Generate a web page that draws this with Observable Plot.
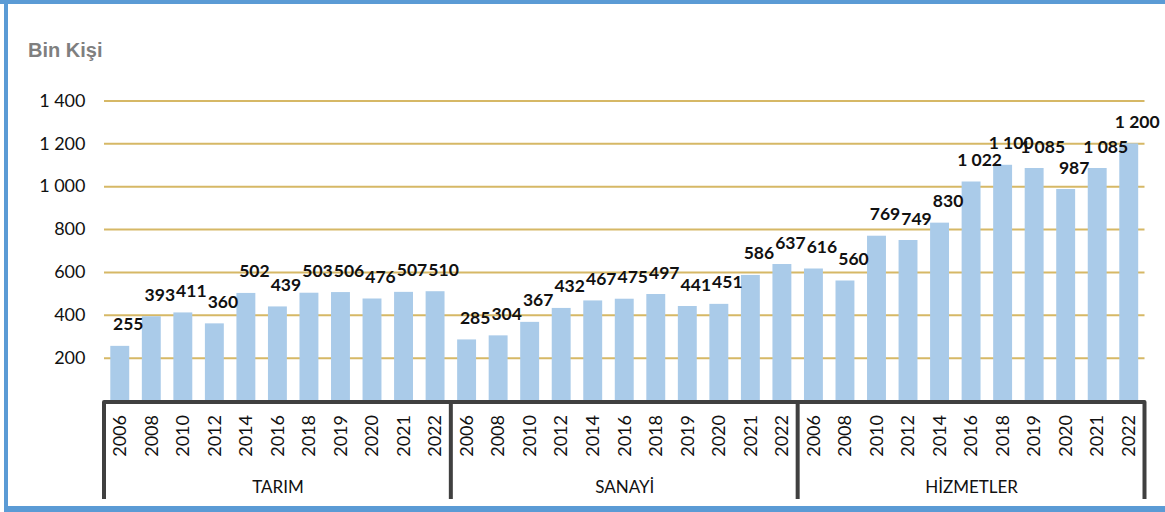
<!DOCTYPE html>
<html><head><meta charset="utf-8">
<script src="https://cdn.jsdelivr.net/npm/d3@7"></script>
<script src="https://cdn.jsdelivr.net/npm/@observablehq/plot@0.6"></script>
<style>
body{margin:0;background:#fff}
#wrap{position:relative;width:1165px;height:512px;overflow:hidden;background:#fff}
.b{position:absolute;background:#5b9bd5}
#title{position:absolute;left:28px;top:40px;font:bold 20px "Liberation Sans",Arial,sans-serif;line-height:20px;color:#7f7f7f;white-space:nowrap}
#chart{position:absolute;left:0;top:0}
</style></head><body>
<div id="wrap">
<div id="chart"></div>
<div id="title">Bin Kişi</div>
<div class="b" style="left:0;top:0;width:1165px;height:4px"></div>
<div class="b" style="left:4px;top:0;width:4px;height:512px"></div>
<div class="b" style="left:4px;top:506px;width:1161px;height:6px"></div>
</div>
<script>
const categories = ["TARIM", "SANAYİ", "HİZMETLER"];
const years = ["2006", "2008", "2010", "2012", "2014", "2016", "2018", "2019", "2020", "2021", "2022"];
const tarim = [255, 393, 411, 360, 502, 439, 503, 506, 476, 507, 510];
const sanayi = [285, 304, 367, 432, 467, 475, 497, 441, 451, 586, 637];
const hizmetler = [616, 560, 769, 749, 830, 1022, 1100, 1085, 987, 1085, 1200];
const yTicks = [200, 400, 600, 800, 1000, 1200, 1400];

const seriesByCategory = [tarim, sanayi, hizmetler];
const rows = categories.flatMap((c, ci) =>
  years.map((yr, yi) => ({key: c + "|" + yr, category: c, year: yr, value: seriesByCategory[ci][yi]})));
const keys = rows.map(d => d.key);
const groupLabels = categories.map(c => ({key: c + "|" + years[Math.floor(years.length / 2)], name: c}));
const fmt = d3.formatLocale({thousands: " ", grouping: [3], decimal: ","}).format(",d");

const FONT = "Lato, 'Open Sans', sans-serif";

function frameLines(index, scales) {
  const x = scales.x, y = scales.y;
  const [r0] = x.range();
  const step = x.step();
  const y0 = y(0) + 1.5;
  const yb = y0 + 97;
  const n = years.length;
  let d = `M${r0},${yb}V${y0}H${r0 + step * keys.length}V${yb}`;
  for (let k = 1; k < categories.length; k++) {
    const xx = r0 + step * n * k;
    d += `M${xx},${y0}V${yb}`;
  }
  const g = d3.create("svg:path")
    .attr("d", d)
    .attr("fill", "none")
    .attr("stroke", "#404040")
    .attr("stroke-width", 4)
    .attr("stroke-linejoin", "round");
  return g.node();
}

const chart = Plot.plot({
  width: 1165,
  height: 512,
  marginLeft: 104,
  marginRight: 20.5,
  marginTop: 100.5,
  marginBottom: 111.5,
  style: {fontFamily: FONT, background: "transparent", color: "#111", overflow: "visible"},
  x: {type: "band", domain: keys, paddingInner: 0.4, paddingOuter: 0.2, round: false, axis: null},
  y: {domain: [0, 1400], axis: null},
  marks: [
    Plot.ruleY(yTicks, {stroke: "#d6b866", strokeWidth: 2}),
    Plot.axisY(yTicks, {tickSize: 0, tickPadding: 19, tickFormat: fmt, fontSize: 18, label: null, fontFamily: FONT}),
    Plot.barY(rows, {x: "key", y: "value", fill: "#aacbe9"}),
    Plot.text(rows, {x: "key", y: "value", text: d => fmt(d.value), dx: 8, dy: -16, lineAnchor: "bottom",
      fontWeight: "bold", fontSize: 17.5, fontFamily: FONT, fill: "#111"}),
    Plot.text(rows, {x: "key", text: "year", frameAnchor: "bottom", rotate: -90, textAnchor: "end",
      lineAnchor: "middle", dy: 14, fontSize: 18, fontFamily: FONT, fill: "#111"}),
    Plot.text(groupLabels, {x: "key", text: "name", frameAnchor: "bottom", lineAnchor: "bottom",
      dy: 91.5, fontSize: 17, fontFamily: FONT, fill: "#111"}),
    frameLines
  ]
});
document.getElementById("chart").appendChild(chart);
</script>
</body></html>
